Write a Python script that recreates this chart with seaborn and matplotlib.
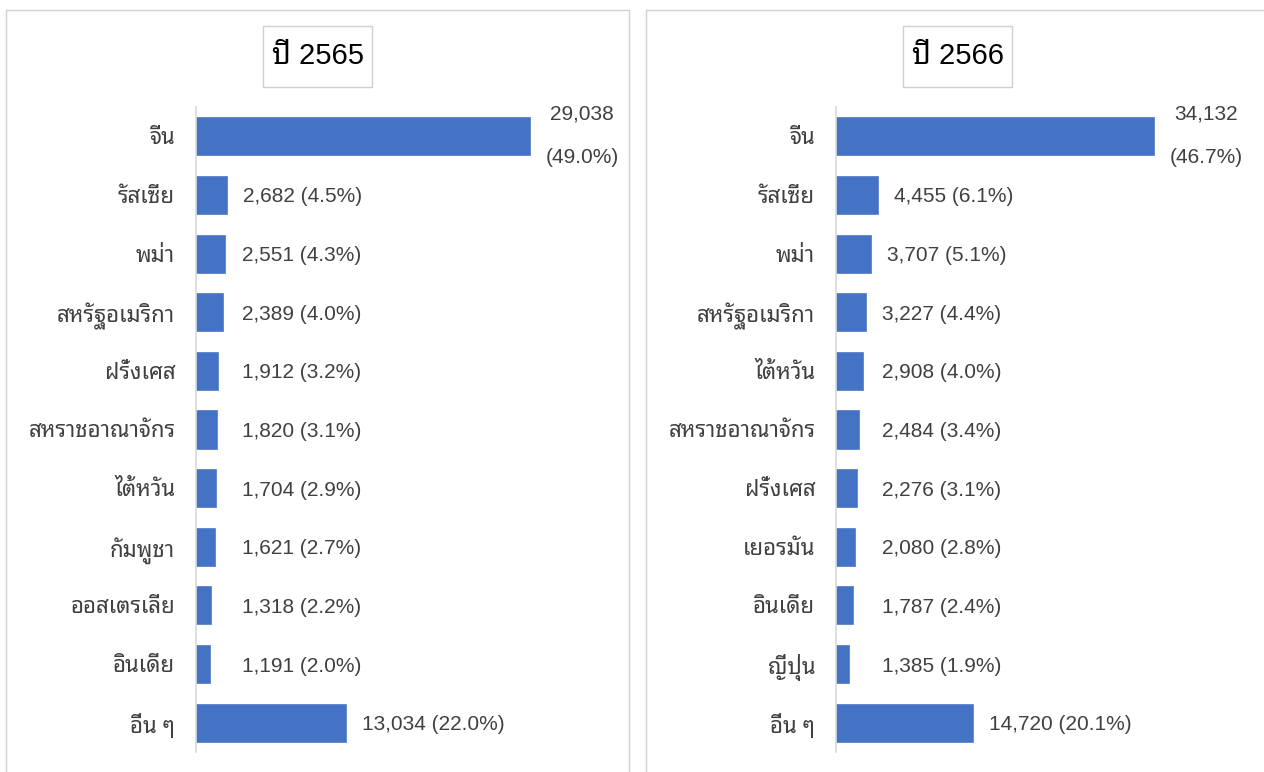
import matplotlib
matplotlib.use("Agg")
import matplotlib.pyplot as plt
from matplotlib.patches import Rectangle
import seaborn as sns
import pandas as pd

# Foreign visitors by nationality, two fiscal years
years = ["ปี 2565", "ปี 2566"]

countries_2565 = ["จีน", "รัสเซีย", "พม่า", "สหรัฐอเมริกา", "ฝรั่งเศส", "สหราชอาณาจักร",
                  "ไต้หวัน", "กัมพูชา", "ออสเตรเลีย", "อินเดีย", "อื่น ๆ"]
visitors_2565 = [29038, 2682, 2551, 2389, 1912, 1820, 1704, 1621, 1318, 1191, 13034]
share_2565 = [49.0, 4.5, 4.3, 4.0, 3.2, 3.1, 2.9, 2.7, 2.2, 2.0, 22.0]

countries_2566 = ["จีน", "รัสเซีย", "พม่า", "สหรัฐอเมริกา", "ไต้หวัน", "สหราชอาณาจักร",
                  "ฝรั่งเศส", "เยอรมัน", "อินเดีย", "ญี่ปุ่น", "อื่น ๆ"]
visitors_2566 = [34132, 4455, 3707, 3227, 2908, 2484, 2276, 2080, 1787, 1385, 14720]
share_2566 = [46.7, 6.1, 5.1, 4.4, 4.0, 3.4, 3.1, 2.8, 2.4, 1.9, 20.1]

sns.set_style("white")
FONTS = ["Liberation Sans", "Noto Sans Thai Looped", "DejaVu Sans"]
plt.rcParams["font.family"] = FONTS

W, H = 1264, 772
BAR = "#4472C4"
GRID = "#d9d9d9"
TEXT = "#404040"

fig = plt.figure(figsize=(W / 100, H / 100), dpi=100)


def fx(px):
    return px / W


def fy(py):
    return 1 - py / H


# panel frames and title boxes
panels = [(6, 10, 623), (646, 10, 640)]
for (px, py, pw), title in zip(panels, years):
    fig.patches.append(Rectangle((fx(px), fy(H + 20)), fx(pw), fy(py) - fy(H + 20),
                                 transform=fig.transFigure, fill=False,
                                 edgecolor="#d0d0d0", linewidth=1.0, zorder=0))
    cx = px + 623 / 2
    bw, bh = 109, 61
    fig.patches.append(Rectangle((fx(cx - bw / 2), fy(26 + bh)), fx(bw), bh / H,
                                 transform=fig.transFigure, facecolor="white",
                                 edgecolor="#d0d0d0", linewidth=1.0, zorder=1))
    fig.text(fx(cx), fy(26 + bh / 2), title, ha="center", va="center",
             fontsize=21, color="black", family=FONTS, zorder=2)

# axes placement (left edge at the value axis, spanning all eleven rows)
ax_top, ax_bot = 107, 752
axes_px = [(196, 424, 29038 / 334), (836, 424, 34132 / 318)]
datasets = [(countries_2565, visitors_2565, share_2565),
            (countries_2566, visitors_2566, share_2566)]

for (left, width, per_px), (cats, vals, shares) in zip(axes_px, datasets):
    ax = fig.add_axes([fx(left), fy(ax_bot), fx(width), (ax_bot - ax_top) / H])
    df = pd.DataFrame({"country": cats, "visitors": vals})
    sns.barplot(data=df, x="visitors", y="country", orient="h", color=BAR,
                saturation=1, width=0.65, ax=ax, edgecolor="#5b84cc", linewidth=0.6)
    ax.set_xlim(0, width * per_px)
    ax.set_ylim(len(cats) - 0.5, -0.5)
    ax.set_xlabel("")
    ax.set_ylabel("")
    ax.set_xticks([])
    for s in ["top", "right", "bottom"]:
        ax.spines[s].set_visible(False)
    ax.spines["left"].set_color(GRID)
    ax.spines["left"].set_linewidth(1.2)
    ax.tick_params(axis="y", length=0, pad=15)
    for lab in ax.get_yticklabels():
        lab.set_fontsize(16)
        lab.set_color(TEXT)
        lab.set_family(["Noto Sans Thai Looped", "DejaVu Sans"])

    # value labels
    for i, (v, p) in enumerate(zip(vals, shares)):
        if i == 0:
            ax.annotate(f"{v:,}", (v, i), xytext=(52 * 0.72, 22 * 0.72),
                        textcoords="offset points", ha="center", va="center",
                        fontsize=15, color=TEXT)
            ax.annotate(f"({p:.1f}%)", (v, i), xytext=(52 * 0.72, -21 * 0.72),
                        textcoords="offset points", ha="center", va="center",
                        fontsize=15, color=TEXT)
        else:
            bar_end_px = v / per_px
            start_px = max(bar_end_px + 16, 46)
            ax.annotate(f"{v:,} ({p:.1f}%)", (0, i),
                        xytext=(start_px * 0.72, -2 * 0.72),
                        textcoords="offset points", ha="left", va="center",
                        fontsize=15, color=TEXT)

fig.savefig("out.png", dpi=100)
